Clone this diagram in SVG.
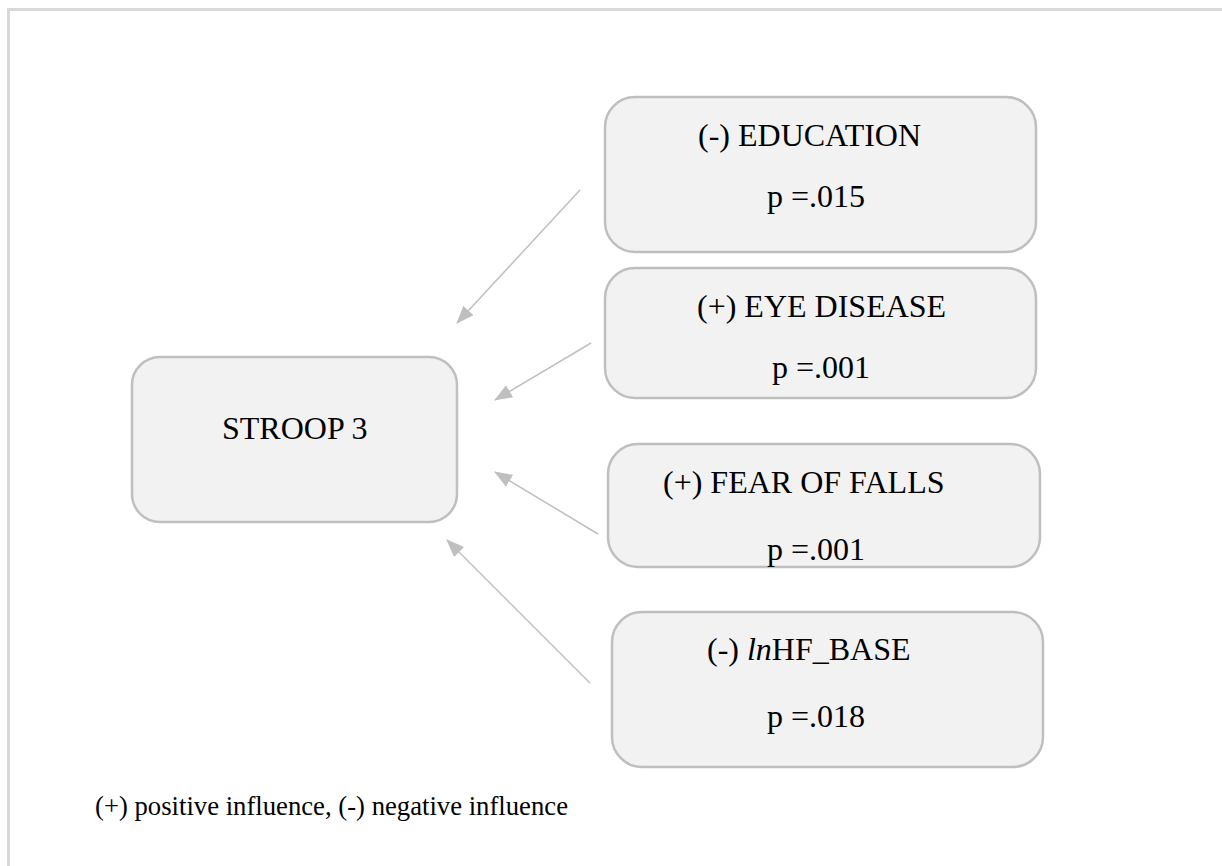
<svg xmlns="http://www.w3.org/2000/svg" width="1222" height="866" viewBox="0 0 1222 866">
<style>
.frame{fill:none;stroke:#d9d9d9;stroke-width:3}
.box{fill:#f2f2f2;stroke:#bfbfbf;stroke-width:2.5}
.t{font-family:"Liberation Serif","Times New Roman",serif;font-size:32px;fill:#000}
.legend{font-family:"Liberation Serif","Times New Roman",serif;font-size:26.7px;fill:#000}
.arr{fill:none;stroke:#bfbfbf;stroke-width:1.5;marker-end:url(#ah)}
</style>
<defs>
<marker id="ah" viewBox="0 0 18 14" refX="17" refY="7" markerWidth="18" markerHeight="14" markerUnits="userSpaceOnUse" orient="auto">
<path d="M0,0 L18,7 L0,14 z" fill="#bfbfbf"/>
</marker>
</defs>
<rect width="1222" height="866" fill="#fff"/>
<path class="frame" d="M8.5,866 V9.5 H1222"/>
<g id="connectors">
<line class="arr" x1="580" y1="190" x2="457" y2="323"/>
<line class="arr" x1="591" y1="343" x2="495" y2="400"/>
<line class="arr" x1="598" y1="534" x2="495" y2="472"/>
<line class="arr" x1="590" y1="683" x2="447" y2="540"/>
</g>
<g id="stroop3">
<rect class="box" x="132" y="357" width="325" height="165" rx="28" ry="28"/>
<text class="t" x="222" y="439">STROOP 3</text>
</g>
<g id="education">
<rect class="box" x="605" y="97" width="431" height="155" rx="30" ry="30"/>
<text class="t" x="698" y="146">(-) EDUCATION</text>
<text class="t" x="767" y="207">p =.015</text>
</g>
<g id="eye-disease">
<rect class="box" x="605" y="268" width="431" height="130" rx="30" ry="30"/>
<text class="t" x="697" y="317">(+) EYE DISEASE</text>
<text class="t" x="772" y="378">p =.001</text>
</g>
<g id="fear-of-falls">
<rect class="box" x="608" y="444" width="432" height="123" rx="30" ry="30"/>
<text class="t" x="663" y="493">(+) FEAR OF FALLS</text>
<text class="t" x="767" y="560">p =.001</text>
</g>
<g id="lnhf-base">
<rect class="box" x="612" y="612" width="431" height="155" rx="30" ry="30"/>
<text class="t" x="707" y="660">(-) <tspan font-style="italic">ln</tspan>HF_BASE</text>
<text class="t" x="767" y="727">p =.018</text>
</g>
<text class="legend" x="95" y="815">(+) positive influence, (-) negative influence</text>
</svg>
